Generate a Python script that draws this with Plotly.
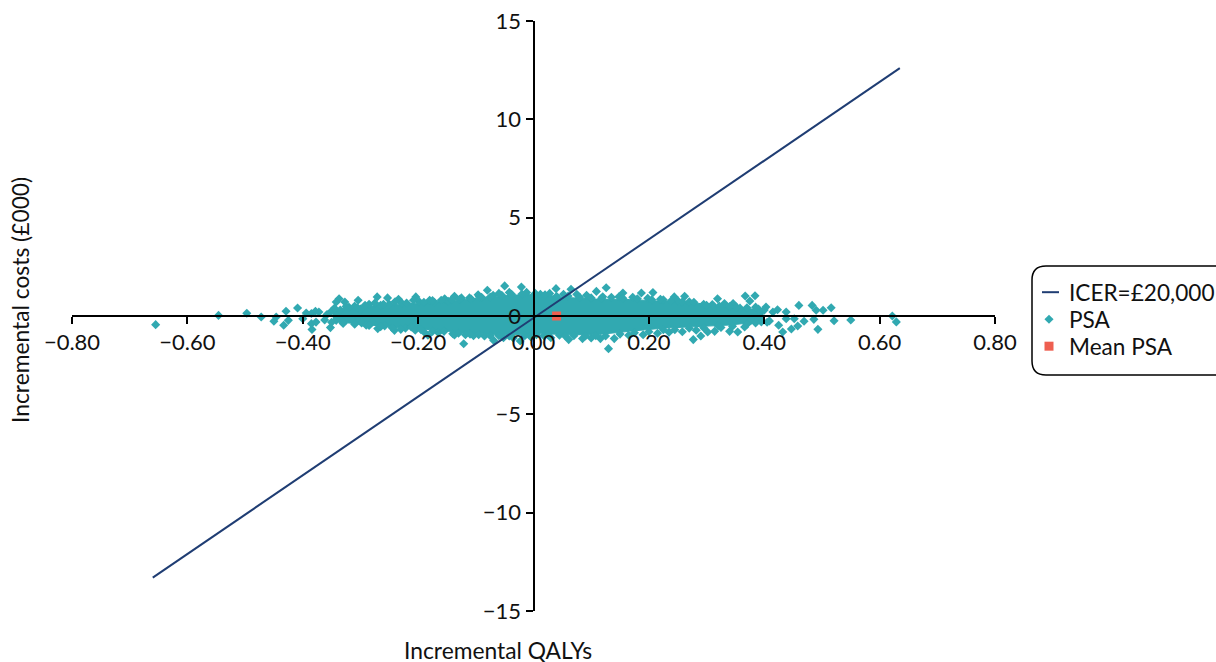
import plotly.graph_objects as go

# ICER = £20,000 threshold line (QALYs, £000)
icer_x = [-0.66, 0.635]
icer_y = [-13.3, 12.6]

mean_x = [0.04]
mean_y = [0.0]

# Individually readable PSA points (QALYs, £000)
psa_points = [
    (-0.655,-0.44),(-0.546,0.03),(-0.497,0.14),(-0.472,-0.05),(-0.446,-0.05),(-0.45,-0.27),(-0.433,-0.47),(-0.425,-0.22),
    (-0.429,0.24),(-0.409,0.41),(-0.4,-0.14),(-0.394,0.15),(-0.385,0.13),(-0.378,0.24),(-0.372,0.2),(-0.385,-0.39),(-0.377,-0.31),
    (-0.384,-0.69),(-0.352,-0.59),(-0.362,-0.2),(-0.358,0.08),(-0.342,-0.22),(-0.337,0.88),(-0.342,0.71),(-0.327,0.71),
    (-0.35,0.25),(-0.335,0.3),(-0.33,-0.3),(-0.32,0.45),(-0.315,-0.15),(-0.304,0.8),(-0.31,0.5),(-0.3,0.35),(-0.298,-0.35),
    (-0.29,-0.47),(-0.285,0.6),(-0.28,-0.3),(-0.271,0.97),(-0.27,-0.64),(-0.265,0.55),(-0.258,-0.5),(-0.253,0.92),(-0.25,0.6),
    (-0.241,-0.73),(-0.234,0.85),(-0.228,0.65),(-0.222,-0.62),(-0.212,-0.56),(-0.204,0.97),(-0.198,0.72),(-0.19,-0.8),
    (-0.183,-0.98),(-0.18,0.8),(-0.172,0.7),(-0.165,-0.85),(-0.154,0.88),(-0.148,0.75),(-0.14,-0.9),(-0.137,1.0),(-0.137,-0.96),
    (-0.128,0.85),(-0.121,-1.41),(-0.118,-0.95),(-0.111,0.92),(-0.104,-1.0),(-0.096,1.08),(-0.09,0.95),(-0.08,1.31),(-0.085,-1.02),
    (-0.07,1.05),(-0.069,-1.24),(-0.06,1.15),(-0.05,1.53),(-0.052,-1.1),(-0.042,1.2),(-0.035,-1.12),(-0.021,1.47),(-0.023,-1.27),
    (-0.012,1.2),(-0.005,-1.05),(0.012,1.1),(0.018,-1.0),(0.028,1.15),(0.03,-1.1),(0.039,1.39),(0.045,-0.98),(0.052,1.1),
    (0.061,-1.2),(0.065,1.36),(0.075,1.1),(0.085,-1.15),(0.092,1.05),(0.1,-1.12),(0.109,1.25),(0.116,-1.15),(0.12,0.98),
    (0.126,1.44),(0.13,-1.66),(0.14,-1.15),(0.148,0.98),(0.155,1.17),(0.165,-0.98),(0.172,0.95),(0.187,1.17),(0.19,-0.95),
    (0.198,0.9),(0.207,1.19),(0.215,-0.88),(0.225,0.82),(0.235,-0.82),(0.244,0.97),(0.25,0.78),(0.258,-0.8),(0.262,1.0),
    (0.27,0.72),(0.277,-1.2),(0.282,-0.72),(0.29,-1.02),(0.295,0.6),(0.302,-0.81),(0.31,0.58),(0.314,-0.78),(0.319,0.88),
    (0.325,-0.58),(0.331,0.63),(0.34,-0.78),(0.346,0.63),(0.354,-0.81),(0.358,0.4),(0.366,-0.56),(0.367,1.02),(0.375,0.76),
    (0.377,-0.22),(0.384,1.03),(0.39,0.35),(0.395,-0.3),(0.403,0.46),(0.409,-0.25),(0.415,0.2),(0.423,0.32),(0.425,-0.47),
    (0.432,-0.81),(0.438,0.2),(0.438,-0.14),(0.447,-0.66),(0.452,-0.14),(0.458,-0.51),(0.46,0.54),(0.469,-0.27),(0.483,0.54),
    (0.486,-0.17),(0.49,0.29),(0.493,-0.68),(0.502,0.29),(0.516,0.42),(0.521,-0.24),(0.55,-0.2),(0.622,0.0),(0.629,-0.3),
    # ragged upper edge of the dense mass
    (-0.345,0.4),(-0.325,0.48),(-0.305,0.42),(-0.292,0.55),(-0.275,0.66),(-0.26,0.6),(-0.24,0.72),(-0.22,0.66),(-0.208,0.8),
    (-0.19,0.7),(-0.175,0.78),(-0.16,0.8),(-0.142,0.82),(-0.125,0.92),(-0.108,0.86),(-0.094,0.98),(-0.075,0.96),(-0.055,1.05),
    (-0.038,1.1),(-0.02,1.12),(0.003,1.15),(0.02,1.08),(0.04,1.0),(0.06,1.02),(0.08,0.95),(0.1,0.92),(0.118,0.9),(0.135,0.95),
    (0.155,0.9),(0.18,0.88),(0.205,0.82),(0.22,0.85),(0.238,0.75),(0.258,0.72),(0.278,0.7),(0.3,0.55),(0.322,0.5),(0.34,0.48),
    (0.352,0.45),(0.37,0.42),(0.385,0.45),(0.4,0.3),
    # ragged lower edge of the dense mass
    (-0.35,-0.32),(-0.33,-0.38),(-0.31,-0.42),(-0.285,-0.48),(-0.265,-0.55),(-0.245,-0.6),(-0.23,-0.68),(-0.205,-0.72),(-0.195,-0.7),
    (-0.175,-0.78),(-0.155,-0.78),(-0.13,-0.88),(-0.11,-0.92),(-0.095,-0.95),(-0.075,-1.0),(-0.06,-1.0),(-0.042,-1.02),(-0.015,-1.0),
    (0.005,-0.95),(0.025,-0.95),(0.055,-1.02),(0.07,-1.0),(0.09,-1.02),(0.108,-1.0),(0.125,-1.02),(0.15,-0.92),(0.175,-0.85),
    (0.2,-0.8),(0.225,-0.7),(0.245,-0.7),(0.27,-0.62),(0.295,-0.6),(0.32,-0.5),(0.345,-0.52),(0.37,-0.42),(0.385,-0.35),(0.405,-0.32),
]
psa_x = [p[0] for p in psa_points]
psa_y = [p[1] for p in psa_points]

# Outline of the solid mass where the PSA points overlap completely
core_x = [-0.348, -0.29, -0.232, -0.175, -0.116, -0.059, -0.007, 0.013, 0.051, 0.109, 0.166, 0.224, 0.282, 0.34, 0.398]
core_upper = [0.32, 0.5, 0.6, 0.7, 0.85, 1.02, 1.1, 1.1, 0.95, 0.86, 0.84, 0.76, 0.66, 0.44, 0.32]
core_lower = [-0.28, -0.45, -0.6, -0.7, -0.86, -0.95, -0.95, -0.88, -0.95, -0.95, -0.78, -0.62, -0.54, -0.46, -0.28]

x_ticks = [-0.8, -0.6, -0.4, -0.2, 0.0, 0.2, 0.4, 0.6, 0.8]
y_ticks = [-15, -10, -5, 0, 5, 10, 15]

TEAL = "#31a9b1"
NAVY = "#1f3d73"
RED = "#ee5f50"
FONT = "Lato"
W, H = 1216, 662
L, R, T, B = 72, 995, 21, 611
TEXT = dict(family=FONT, size=22, color="#111")
TITLE = dict(family=FONT, size=22.8, color="#111")
LEGEND = dict(family=FONT, size=22.6, color="#111")

fig = go.Figure()
fig.add_trace(go.Scatter(
    x=core_x + core_x[::-1], y=core_upper + core_lower[::-1], mode="lines",
    fill="toself", fillcolor=TEAL, line=dict(color=TEAL, width=1),
    showlegend=False, hoverinfo="skip", name="PSA (overlapping)"))
fig.add_trace(go.Scatter(
    x=psa_x, y=psa_y, mode="markers", name="PSA", legendrank=2,
    marker=dict(symbol="diamond", size=7, color=TEAL)))
fig.add_trace(go.Scatter(
    x=icer_x, y=icer_y, mode="lines", name="ICER=£20,000", legendrank=1,
    line=dict(color=NAVY, width=2)))
fig.add_trace(go.Scatter(
    x=mean_x, y=mean_y, mode="markers", name="Mean PSA", legendrank=3,
    marker=dict(symbol="square", size=9, color=RED)))

axis = dict(showgrid=False, zeroline=False, showline=True, linecolor="black", linewidth=2,
            ticks="outside", ticklen=7, tickwidth=2, tickcolor="black", tickfont=TEXT)

fig.update_layout(
    width=W, height=H, autosize=False,
    margin=dict(l=L, r=W - R, t=T, b=H - B, pad=0, autoexpand=False),
    paper_bgcolor="white", plot_bgcolor="white",
    font=TEXT,
    xaxis=dict(axis, range=[-0.8, 0.8], tickvals=x_ticks, tickformat=".2f",
               anchor="free", position=0.5),
    yaxis=dict(axis, range=[-15, 15], tickvals=y_ticks, tickformat="d",
               anchor="free", position=0.5),
    legend=dict(x=(1029 - L) / (R - L), xanchor="left", y=(B - 320) / (B - T), yanchor="middle",
                bgcolor="rgba(0,0,0,0)", borderwidth=0, tracegroupgap=0, itemwidth=30,
                font=LEGEND),
    annotations=[
        dict(text="Incremental QALYs", xref="paper", yref="paper", showarrow=False,
             x=(498 - L) / (R - L), y=(B - 650) / (B - T), xanchor="center", yanchor="middle",
             font=TITLE),
        dict(text="Incremental costs (£000)", xref="paper", yref="paper", showarrow=False, textangle=-90,
             x=(20 - L) / (R - L), y=(B - 300) / (B - T), xanchor="center", yanchor="middle",
             font=TITLE),
    ],
    shapes=[dict(type="path", xref="paper", yref="paper",
                 path=" ".join([
                     f"M {(1250 - L)/(R - L)} {(B - 266)/(B - T)}",
                     f"L {(1046 - L)/(R - L)} {(B - 266)/(B - T)}",
                     f"Q {(1032 - L)/(R - L)} {(B - 266)/(B - T)} {(1032 - L)/(R - L)} {(B - 280)/(B - T)}",
                     f"L {(1032 - L)/(R - L)} {(B - 361)/(B - T)}",
                     f"Q {(1032 - L)/(R - L)} {(B - 375)/(B - T)} {(1046 - L)/(R - L)} {(B - 375)/(B - T)}",
                     f"L {(1250 - L)/(R - L)} {(B - 375)/(B - T)}",
                 ]),
                 line=dict(color="black", width=1.5))],
    hovermode="closest",
)

# Tighten the native legend's row spacing and shorten its line sample, as in the reference.
post = """
document.body.style.margin='0';document.body.style.overflow='hidden';
try {
  var rows = document.querySelectorAll('.legend .traces');
  var first = null;
  rows.forEach(function (r, i) {
    var m = /translate\\(([-\\d.]+),\\s*([-\\d.]+)\\)/.exec(r.getAttribute('transform'));
    if (first === null) { first = parseFloat(m[2]); }
    r.setAttribute('transform', 'translate(' + m[1] + ',' + (first + 5 + 27 * i) + ')');
  });
  document.querySelectorAll('.legend .legendlines path').forEach(function (p) {
    p.setAttribute('d', 'M13,0h17');
  });
} catch (e) {}
"""
fig.write_html("out.html", config={"displayModeBar": False}, post_script=post)
